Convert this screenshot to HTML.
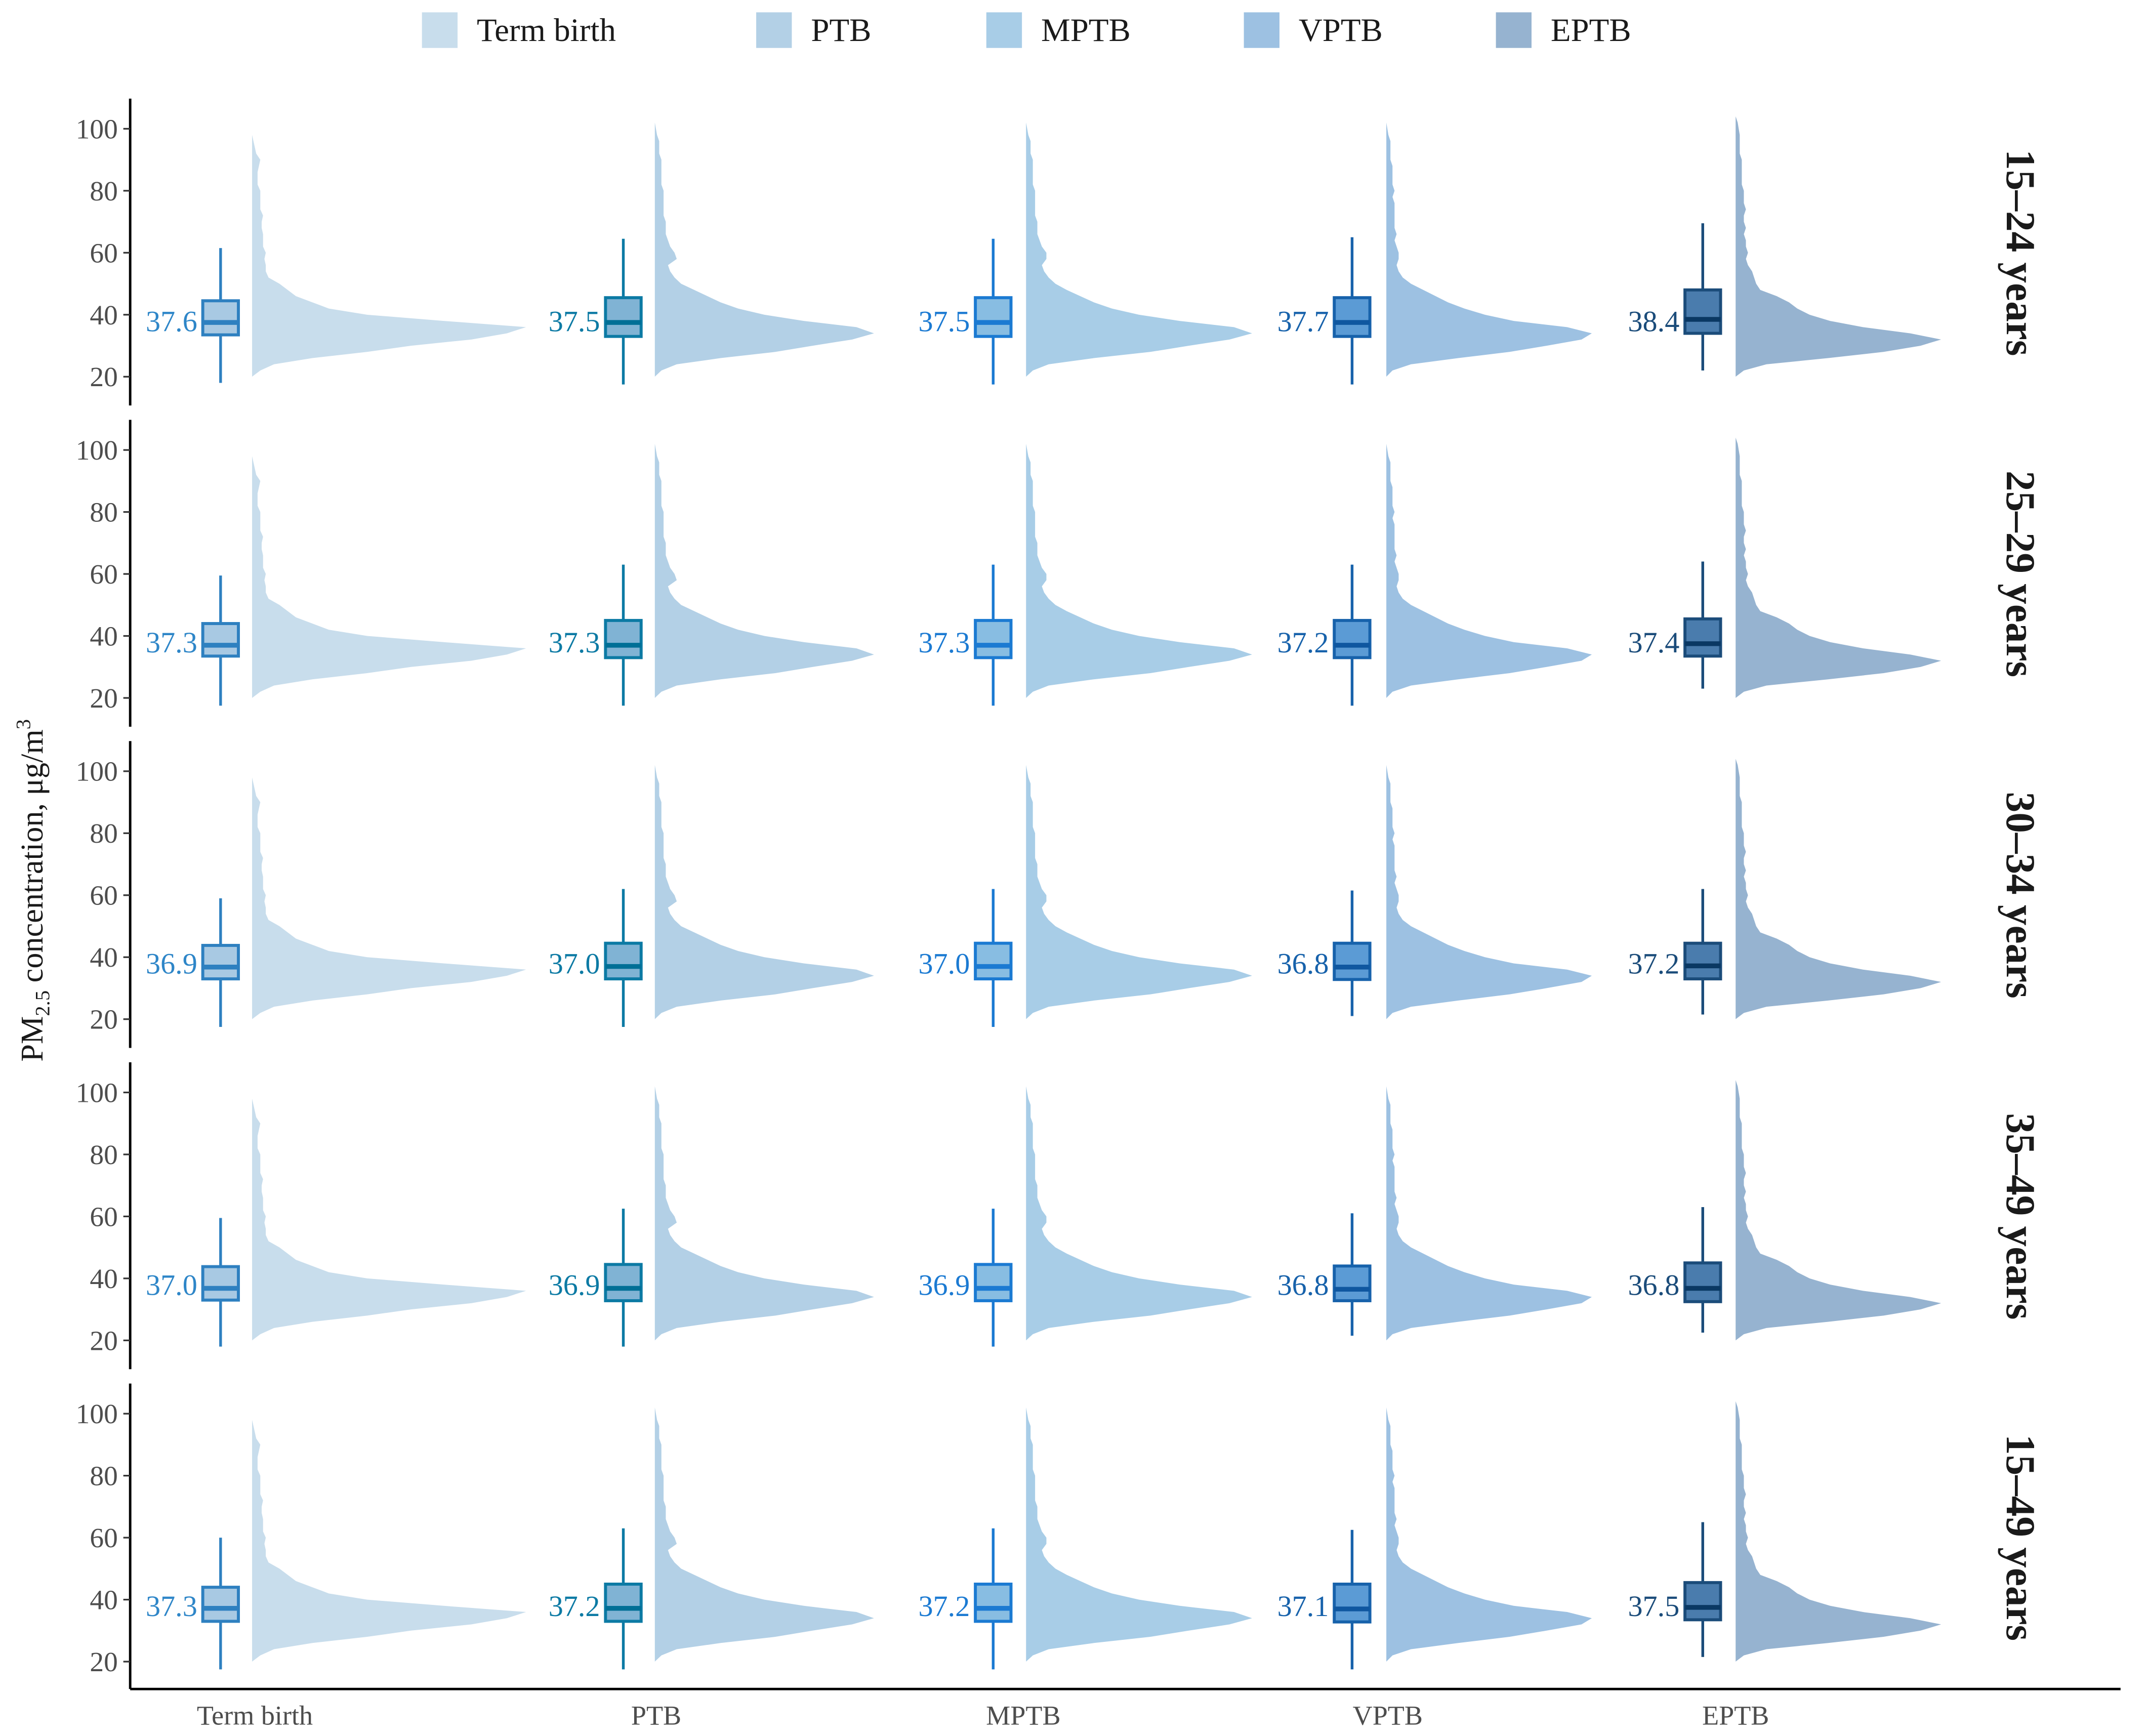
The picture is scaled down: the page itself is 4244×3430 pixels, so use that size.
<!DOCTYPE html>
<html><head><meta charset="utf-8"><style>
html,body{margin:0;padding:0;background:#fff}
svg{display:block}
text{font-family:"Liberation Serif",serif}
</style></head><body>
<svg id="chart" width="4244" height="3430" viewBox="0 0 1568 1267.3" xmlns="http://www.w3.org/2000/svg"></svg>
<script>
const groups = ["Term birth","PTB","MPTB","VPTB","EPTB"];
const ageGroups = ["15–24 years","25–29 years","30–34 years","35–49 years","15–49 years"];
const meanLabels = [
 [37.6,37.5,37.5,37.7,38.4],
 [37.3,37.3,37.3,37.2,37.4],
 [36.9,37.0,37.0,36.8,37.2],
 [37.0,36.9,36.9,36.8,36.8],
 [37.3,37.2,37.2,37.1,37.5]];
const medians = [
 [37.5,37.5,37.5,37.5,38.5],
 [37,37,37,37,37.5],
 [36.8,37,37,36.8,37.2],
 [36.8,36.8,36.8,36.5,36.8],
 [37.2,37.2,37.2,37,37.5]];
const q1s = [
 [33.5,33,33,33,34],[33.5,33,33,33,33.5],[33,33,33,32.8,33],[33,32.8,32.8,32.8,32.5],[33,33,33,32.8,33.5]];
const q3s = [
 [44.5,45.5,45.5,45.5,48],[44,45,45,45,45.5],[43.8,44.5,44.5,44.5,44.5],[43.8,44.5,44.5,44,45],[44,45,45,45,45.5]];
const whiskLo = [
 [18,17.5,17.5,17.5,22],[17.5,17.5,17.5,17.5,23],[17.5,17.5,17.5,21,21.5],[18,18,18,21.5,22.5],[17.5,17.5,17.5,17.5,21.5]];
const whiskHi = [
 [61.5,64.5,64.5,65,69.5],[59.5,63,63,63,64],[59,62,62,61.5,62],[59.5,62.5,62.5,61,63],[60,63,63,62.5,65]];
const densLevels = [20,22,24,26,28,30,32,34,36,38,40,42,44,46,48,50,52,54,56,58,60,62,64,66,68,70,72,74,76,78,80,82,84,86,88,90,92,94,96,98,100,102,104];
const densTerm = [0,0.03,0.08,0.22,0.42,0.58,0.8,0.93,1.0,0.7,0.42,0.28,0.22,0.16,0.13,0.1,0.06,0.05,0.05,0.045,0.05,0.04,0.04,0.04,0.035,0.035,0.04,0.03,0.03,0.03,0.03,0.02,0.02,0.02,0.025,0.03,0.015,0.01,0.005,0,0,0,0];
const densPTB = [0,0.03,0.1,0.3,0.55,0.72,0.9,1.0,0.92,0.68,0.5,0.38,0.3,0.24,0.18,0.12,0.09,0.07,0.06,0.1,0.09,0.07,0.06,0.05,0.05,0.05,0.04,0.04,0.04,0.04,0.04,0.03,0.03,0.03,0.03,0.03,0.02,0.02,0.02,0.01,0.005,0,0];
const densMPTB = [0,0.03,0.1,0.3,0.55,0.72,0.9,1.0,0.92,0.68,0.5,0.38,0.3,0.24,0.18,0.13,0.1,0.08,0.07,0.09,0.09,0.07,0.06,0.05,0.05,0.05,0.04,0.04,0.04,0.04,0.04,0.03,0.03,0.03,0.03,0.03,0.02,0.02,0.02,0.01,0.005,0,0];
const densVPTB = [0,0.03,0.12,0.35,0.6,0.78,0.95,1.0,0.88,0.62,0.48,0.38,0.3,0.24,0.18,0.12,0.08,0.06,0.05,0.06,0.06,0.05,0.04,0.05,0.04,0.04,0.04,0.04,0.04,0.03,0.04,0.03,0.03,0.03,0.03,0.02,0.02,0.02,0.02,0.01,0.005,0,0];
const densEPTB = [0,0.04,0.15,0.45,0.72,0.9,1.0,0.85,0.62,0.46,0.36,0.3,0.26,0.2,0.12,0.1,0.09,0.08,0.06,0.05,0.06,0.05,0.05,0.04,0.05,0.04,0.04,0.05,0.04,0.04,0.04,0.03,0.03,0.03,0.03,0.03,0.02,0.02,0.02,0.02,0.015,0.01,0];
const densities = [densTerm,densPTB,densMPTB,densVPTB,densEPTB];
const peakWidths = [200,160,165,150,150];
const yTicks = [20,40,60,80,100];

const violinFill = ["#c8ddec","#b3d0e6","#a8cde7","#9dc1e2","#96b3d0"];
const boxFill = ["#a8c9e3","#80b3d4","#88bde2","#5b9bd5","#4a7cad"];
const boxStroke = ["#2e80c0","#0c7aa4","#1b7ad2","#1762ab","#1b4c7a"];
const medStroke = ["#2e80c0","#006f96","#1b7ad2","#0f57a0","#0a3863"];
const labelColor = ["#2e86c8","#0c7aa4","#1b7ad2","#1762ab","#1b4c7a"];

const svg = document.getElementById('chart');
const NS = "http://www.w3.org/2000/svg";
function mk(tag, attrs, parent){const e=document.createElementNS(NS,tag);for(const k in attrs)e.setAttribute(k,attrs[k]);(parent||svg).appendChild(e);return e;}

const boxX = [161,455,725,987,1243];
const violinX = [184,478,749,1012,1267];
const panelOffset = 234.5;
function yScale(p,v){return 94 + p*panelOffset + (100 - v)*(181/80);}

const legX=[308,552,720,908,1092];
groups.forEach((g,i)=>{
  const lg = mk('g',{});
  
  
  mk('rect',{x:legX[i],y:9,width:26,height:26,fill:violinFill[i]},lg);
  const t=mk('text',{x:legX[i]+40,y:30,'font-size':24,fill:'#1a1a1a'},lg);t.textContent=g;
});

const yt = mk('text',{transform:'translate(31,650) rotate(-90)','text-anchor':'middle','font-size':23,fill:'#1a1a1a'});


yt.innerHTML='PM<tspan font-size="15" dy="5">2.5</tspan><tspan dy="-5"> concentration, μg/m</tspan><tspan font-size="15" dy="-9">3</tspan>';

const xa = mk('line',{x1:95,y1:1233,x2:1548,y2:1233,stroke:'#000','stroke-width':1.8});


const xLabX=[186,479,747,1013,1267];
groups.forEach((g,i)=>{
  const t=mk('text',{x:xLabX[i],y:1259,'text-anchor':'middle','font-size':20,fill:'#4d4d4d'});
  
  
  t.textContent=g;
});

for(let p=0;p<5;p++){
  const pg = mk('g',{});
  
  
  const top = 72 + p*panelOffset, bot = 296 + p*panelOffset;
  const ax = mk('line',{x1:95,y1:top,x2:95,y2:p===4?1233:bot,stroke:'#000','stroke-width':1.8},pg);
  
  
  yTicks.forEach(v=>{
    const y=yScale(p,v);
    mk('line',{x1:90,y1:y,x2:95,y2:y,stroke:'#333','stroke-width':1.2},pg);
    const t=mk('text',{x:86,y:y+7,'text-anchor':'end','font-size':20.5,fill:'#4d4d4d'},pg);
    
    
    t.textContent=v;
  });
  const fl = mk('text',{transform:`translate(1465,${yScale(p,60)}) rotate(90)`,'text-anchor':'middle','font-size':30,'font-weight':'bold',fill:'#1a1a1a'},pg);
  
  
  fl.textContent=ageGroups[p];

  for(let g=0;g<5;g++){
    const d=densities[g];
    let path=`M${violinX[g]},${yScale(p,densLevels[0])}`;
    for(let k=0;k<densLevels.length;k++){
      path+=` L${violinX[g]+d[k]*peakWidths[g]},${yScale(p,densLevels[k])}`;
    }
    path+=` L${violinX[g]},${yScale(p,densLevels[densLevels.length-1])} Z`;
    const v=mk('path',{d:path,fill:violinFill[g],stroke:'none'},pg);
    
    

    const bx=boxX[g];
    const wl=mk('line',{x1:bx,x2:bx,y1:yScale(p,whiskLo[p][g]),y2:yScale(p,whiskHi[p][g]),stroke:boxStroke[g],'stroke-width':2},pg);
    
    
    const yq3=yScale(p,q3s[p][g]), yq1=yScale(p,q1s[p][g]);
    const r=mk('rect',{x:bx-13,y:yq3,width:26,height:yq1-yq3,fill:boxFill[g],stroke:boxStroke[g],'stroke-width':2.2},pg);
    
    
    const ym=yScale(p,medians[p][g]);
    const ml=mk('line',{x1:bx-13,x2:bx+13,y1:ym,y2:ym,stroke:medStroke[g],'stroke-width':3.5},pg);
    
    
    const lt=mk('text',{x:bx-17,y:yScale(p,38)+7.5,'text-anchor':'end','font-size':21.5,fill:labelColor[g]},pg);
    
    
    lt.textContent=meanLabels[p][g].toFixed(1);
  }
}
</script>
</body></html>
